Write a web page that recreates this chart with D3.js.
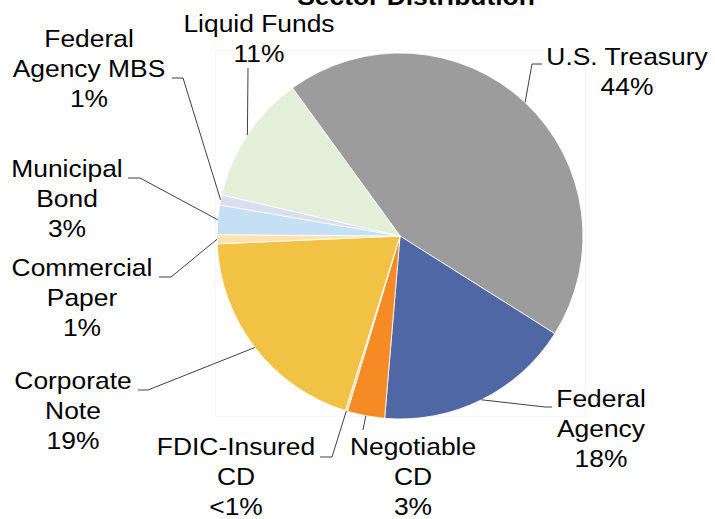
<!DOCTYPE html>
<html>
<head>
<meta charset="utf-8">
<script src="https://cdn.jsdelivr.net/npm/d3@7"></script>
<style>
    body { margin: 0; background: #fff; }
    svg text { font-family: "Liberation Sans", Arial, sans-serif; fill: #000; }
</style>
</head>
<body>
<div id="container"><svg></svg></div>
<script>
let width = 715
let height = 519

// data (percent of portfolio)
let sectors = ['U.S. Treasury', 'Federal Agency', 'Negotiable CD', 'FDIC-Insured CD',
    'Corporate Note', 'Commercial Paper', 'Municipal Bond', 'Federal Agency MBS', 'Liquid Funds']
let shares = [44.0, 17.4, 3.3, 0.2, 19.5, 0.8, 2.6, 0.9, 11.4]
let share_labels = ['44%', '18%', '3%', '<1%', '19%', '1%', '3%', '1%', '11%']
let label_lines = [
    ['U.S. Treasury'], ['Federal', 'Agency'], ['Negotiable', 'CD'], ['FDIC-Insured', 'CD'],
    ['Corporate', 'Note'], ['Commercial', 'Paper'], ['Municipal', 'Bond'], ['Federal', 'Agency MBS'], ['Liquid Funds']
]
let colors = ['#9c9c9c', '#4f67a5', '#f68b26', '#e9d7a8', '#f2c244', '#fbe3b0', '#c5e0f4', '#dadff0', '#e3efd8']

// label placement: text centre x, first baseline y, leader bend points (toward label)
let label_layout = [
    { x: 627, y: 65, pts: [[532, 64], [542, 64]] },
    { x: 601, y: 407, pts: [[545, 407], [552, 407]] },
    { x: 413, y: 455, pts: [[363, 430]] },
    { x: 236, y: 455, pts: [[332, 457], [320, 457]] },
    { x: 73, y: 389, pts: [[148, 390], [138, 390]] },
    { x: 82, y: 276, pts: [[171, 277], [159, 277]] },
    { x: 67, y: 177, pts: [[140, 178], [128, 178]] },
    { x: 89, y: 47, pts: [[183, 78], [172, 78]] },
    { x: 259, y: 32, pts: [[248, 68]] }
]

let cx = 400, cy = 236, r = 183
let line_h = 30
let stretch = 1.1   // the reference text is a bit wider than plain Arial

function draw_main() {
    let svg = d3.select('#container').select('svg')
        .attr('width', width)
        .attr('height', height)

    // faint plot area frame
    svg.append('rect')
        .attr('x', 215.5).attr('y', 50.5)
        .attr('width', 370).attr('height', 366)
        .attr('fill', 'none')
        .attr('stroke', '#f7f7f7')

    let data = sectors.map((s, i) => ({ name: s, value: shares[i], i: i }))
    let pie = d3.pie()
        .sort(null)
        .value(d => d.value)
        .startAngle(-36 * Math.PI / 180)
        .endAngle(324 * Math.PI / 180)
    let arcs = pie(data)

    let arc = d3.arc().innerRadius(0).outerRadius(r)
    let edge = d3.arc().innerRadius(r).outerRadius(r)

    let g = svg.append('g').attr('transform', `translate(${cx}, ${cy})`)
    g.selectAll('path')
        .data(arcs)
        .enter().append('path')
        .attr('d', arc)
        .style('fill', d => colors[d.data.i])
        .attr('stroke', '#fff')
        .attr('stroke-width', 0.8)

    // leader lines
    let line = d3.line()
    svg.append('g')
        .selectAll('path')
        .data(arcs)
        .enter().append('path')
        .attr('d', d => {
            let c = edge.centroid(d)
            let pts = [[cx + c[0], cy + c[1]]].concat(label_layout[d.data.i].pts)
            return line(pts)
        })
        .attr('fill', 'none')
        .attr('stroke', '#404040')
        .attr('stroke-width', 1)

    // labels
    let lbl = svg.append('g')
    arcs.forEach(d => {
        let k = d.data.i
        let L = label_layout[k]
        let lines = label_lines[k].concat([share_labels[k]])
        let t = lbl.append('text')
            .attr('transform', `translate(${L.x}, 0) scale(${stretch}, 1)`)
            .attr('text-anchor', 'middle')
            .attr('font-size', 24)
        lines.forEach((s, j) => {
            t.append('tspan')
                .attr('x', 0)
                .attr('y', L.y + j * line_h)
                .text(s)
        })
    })

    // title, partly cut off at the top as in the source
    svg.append('text')
        .attr('transform', `translate(416, 0) scale(${stretch}, 1)`)
        .attr('y', 5)
        .attr('text-anchor', 'middle')
        .attr('font-size', 24)
        .attr('font-weight', 'bold')
        .text('Sector Distribution')
}

draw_main()
</script>
</body>
</html>
